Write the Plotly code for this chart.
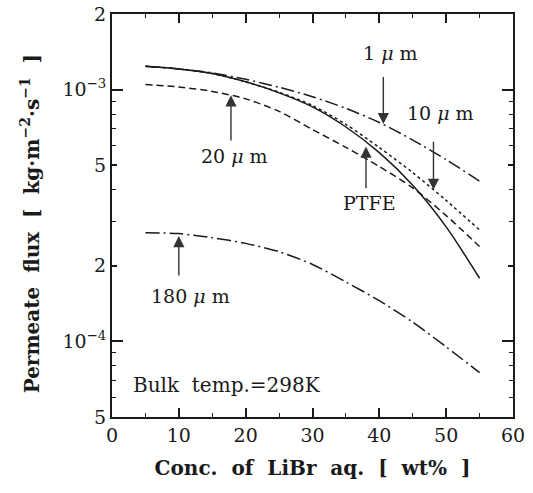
import numpy as np
import plotly.graph_objects as go

# ---- data ----
conc = [5, 10, 15, 20, 25, 30, 35, 40, 45, 50, 55]
flux_1um = [1.24e-3, 1.21e-3, 1.167e-3, 1.10e-3, 1.023e-3, 9.38e-4, 8.43e-4, 7.41e-4, 6.31e-4, 5.27e-4, 4.33e-4]
flux_10um = [1.24e-3, 1.21e-3, 1.16e-3, 1.075e-3, 9.77e-4, 8.65e-4, 7.28e-4, 5.89e-4, 4.68e-4, 3.63e-4, 2.77e-4]
flux_ptfe = [1.24e-3, 1.21e-3, 1.16e-3, 1.075e-3, 9.72e-4, 8.55e-4, 7.11e-4, 5.62e-4, 4.17e-4, 2.85e-4, 1.78e-4]
flux_20um = [1.05e-3, 1.025e-3, 9.85e-4, 9.2e-4, 8.2e-4, 6.95e-4, 5.9e-4, 4.95e-4, 4.07e-4, 3.16e-4, 2.38e-4]
flux_180um = [2.70e-4, 2.68e-4, 2.58e-4, 2.45e-4, 2.27e-4, 2.02e-4, 1.72e-4, 1.45e-4, 1.19e-4, 9.5e-5, 7.5e-5]

x_ticks = [0, 10, 20, 30, 40, 50, 60]
x_minor = [5, 15, 25, 35, 45, 55]
y_ticks = [5e-5, 1e-4, 2e-4, 5e-4, 1e-3, 2e-3]
y_ticktext = ["5", "10<sup>−4</sup>", "2", "5", "10<sup>−3</sup>", "2"]
y_long = [1e-4, 1e-3]
y_minor = [6e-5, 7e-5, 8e-5, 9e-5, 3e-4, 4e-4, 6e-4, 7e-4, 8e-4, 9e-4]

FONT = "DejaVu Serif"
INK = "#1a1a1a"

series = [
    ("1 μm", flux_1um, "13px,4px,2px,4px"),
    ("10 μm", flux_10um, "3px,3px"),
    ("PTFE", flux_ptfe, "solid"),
    ("20 μm", flux_20um, "7px,4px"),
    ("180 μm", flux_180um, "14px,4px,2px,4px"),
]

fig = go.Figure()
for name, ys, dash in series:
    fig.add_trace(go.Scatter(x=conc, y=ys, mode="lines", name=name,
                             line=dict(color=INK, width=1.5, dash=dash, shape="spline", smoothing=0.8),
                             showlegend=False))

# overlay axis for the long decade ticks
fig.add_trace(go.Scatter(x=[None], y=[None], yaxis="y2", showlegend=False))

L = np.log10
EPS = 1e-4
y_range = [L(5e-5) - EPS, L(2e-3) + EPS]

# arrows: (tip_x, tip_y, tail_x, tail_y)
arrows = [
    (40.6, 7.3e-4, 40.6, 1.14e-3),
    (48.1, 4.0e-4, 48.1, 6.3e-4),
    (38.0, 5.95e-4, 38.0, 4.0e-4),
    (17.8, 9.5e-4, 17.8, 6.2e-4),
    (10.0, 2.62e-4, 10.0, 1.8e-4),
]
for tx, ty, sx, sy in arrows:
    fig.add_annotation(x=tx, y=L(ty), ax=sx, ay=L(sy), axref="x", ayref="y",
                       xref="x", yref="y", text="", showarrow=True,
                       arrowhead=2, arrowsize=1.6, arrowwidth=1.4, arrowcolor="#333")

labels = [
    (41.7, -2.854, "1 <i>μ</i> m", "center"),
    (49.2, -3.092, "10 <i>μ</i> m", "center"),
    (38.6, -3.450, "PTFE", "center"),
    (18.4, -3.263, "20 <i>μ</i> m", "center"),
    (11.8, -3.820, "180 <i>μ</i> m", "center"),
    (2.9, -4.174, "Bulk  temp.=298K", "left"),
]
for lx, ly, txt, anc in labels:
    fig.add_annotation(x=lx, y=ly, xref="x", yref="y", text=txt, showarrow=False,
                       xanchor=anc, yanchor="middle",
                       font=dict(family=FONT, size=20 if anc == "left" else 19, color=INK))

# y-axis title as a rotated annotation
fig.add_annotation(x=-0.205, y=0.48, xref="paper", yref="paper", showarrow=False,
                   text="<b>Permeate  flux  [  kg·m<sup>−2</sup>·s<sup>−1</sup>  ]</b>",
                   textangle=-90, xanchor="center", yanchor="middle",
                   font=dict(family=FONT, size=20, color=INK))

fig.update_layout(
    width=533, height=493,
    margin=dict(l=112, r=20, t=14, b=76),
    paper_bgcolor="white", plot_bgcolor="white",
    font=dict(family=FONT, size=19, color=INK),
    xaxis=dict(range=[0, 60], tickvals=x_ticks, ticks="inside", ticklen=9, tickwidth=1.5,
               tickcolor=INK, showline=True, linecolor=INK, linewidth=2, mirror="ticks",
               showgrid=False, zeroline=False, automargin=False,
               minor=dict(tickvals=x_minor, ticks="inside", ticklen=4, tickwidth=1.2, tickcolor=INK),
               tickfont=dict(family=FONT, size=19, color=INK),
               title=dict(text="<b>Conc.  of  LiBr  aq.  [  wt%  ]</b>", standoff=16,
                          font=dict(family=FONT, size=20, color=INK))),
    yaxis=dict(type="log", range=y_range, tickvals=y_ticks, ticktext=y_ticktext,
               ticks="inside", ticklen=5, tickwidth=1.5, tickcolor=INK,
               showline=True, linecolor=INK, linewidth=2, mirror="ticks",
               showgrid=False, zeroline=False, automargin=False, ticklabeloverflow="allow",
               minor=dict(tickvals=y_minor, ticks="inside", ticklen=4, tickwidth=1.2, tickcolor=INK),
               tickfont=dict(family=FONT, size=19, color=INK)),
    yaxis2=dict(type="log", range=y_range, overlaying="y", tickvals=y_long,
                ticks="inside", ticklen=11, tickwidth=1.5, tickcolor=INK, showticklabels=False,
                showline=False, mirror="ticks", showgrid=False, zeroline=False, automargin=False),
)

fig.write_html("out.html", config={"displayModeBar": False},
               post_script="document.body.style.margin='0px';document.body.style.padding='0px';")
